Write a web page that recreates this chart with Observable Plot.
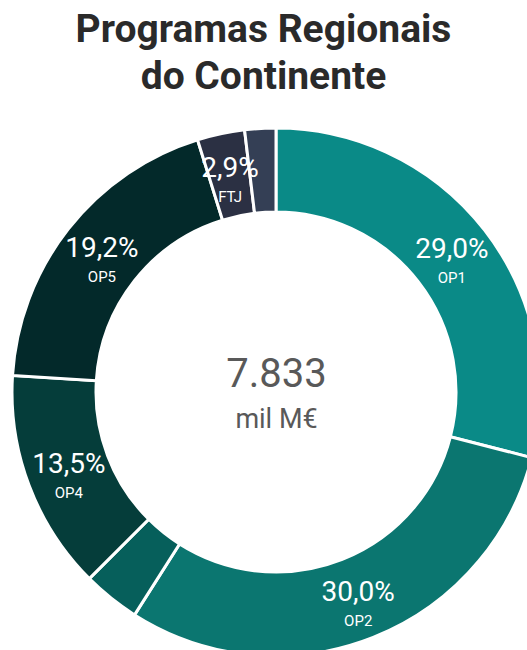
<!DOCTYPE html>
<html>
<head>
<meta charset="utf-8">
<script src="https://cdn.jsdelivr.net/npm/d3@7"></script>
<script src="https://cdn.jsdelivr.net/npm/@observablehq/plot@0.6"></script>
<style>
  html, body { margin: 0; padding: 0; background: #fff; overflow: hidden; width: 527px; height: 650px; }
  #title { font-family: Roboto, "Noto Sans", sans-serif; font-weight: 700; color: #2a2a2a;
           font-size: 39px; line-height: 47px; text-align: center; height: 110px; padding-top: 6px; box-sizing: border-box; }
  #chart svg { overflow: hidden; display: block; }
</style>
</head>
<body>
<div id="title">Programas Regionais<br>do Continente</div>
<div id="chart"></div>
<script>
const categories = ["OP1", "OP2", "OP3", "OP4", "OP5", "FTJ", "AT"];
const shares = [29.0, 30.0, 3.5, 13.5, 19.2, 2.9, 1.9];
const pctLabels = ["29,0%", "30,0%", "", "13,5%", "19,2%", "2,9%", ""];
const nameLabels = ["OP1", "OP2", "", "OP4", "OP5", "FTJ", ""];
const colors = ["#0a8a87", "#0b7670", "#065f5b", "#053d3a", "#03292a", "#2b3043", "#343f55"];
const totalValue = "7.833";
const totalUnit = "mil M€";

const data = categories.map((c, i) => ({name: c, share: shares[i], pct: pctLabels[i], label: nameLabels[i]}));

const innerRatio = 180 / 264;
const pie = d3.pie().sort(null).value(d => d.share);
const arcsData = pie(data);
const unitArc = d3.arc().innerRadius(innerRatio).outerRadius(1);
const labelData = arcsData.map(a => {
  const [cx, cy] = unitArc.centroid(a);
  return {...a.data, x: cx, y: -cy};
}).filter(d => d.pct);

const colorScale = Plot.scale({color: {type: "ordinal", domain: categories, range: colors}});

function donutMark(index, scales, values, dimensions) {
  const {width, height, marginLeft, marginRight, marginTop, marginBottom} = dimensions;
  const cx = scales && scales.x ? scales.x(0) : marginLeft + (width - marginLeft - marginRight) / 2;
  const cy = scales && scales.y ? scales.y(0) : marginTop + (height - marginTop - marginBottom) / 2;
  const R = scales && scales.x ? scales.x(1) - scales.x(0) : (width - marginLeft - marginRight) / 2;
  const arc = d3.arc().innerRadius(R * innerRatio).outerRadius(R);
  const g = d3.create("svg:g").attr("transform", `translate(${cx},${cy})`);
  g.selectAll("path").data(arcsData).join("path")
    .attr("d", arc)
    .attr("fill", d => colorScale.apply(d.data.name))
    .attr("stroke", "#fff")
    .attr("stroke-width", 3)
    .attr("stroke-linejoin", "miter");
  return g.node();
}

const chart = Plot.plot({
  width: 527,
  height: 540,
  marginTop: 18,
  marginBottom: -6,
  marginLeft: 12,
  marginRight: -13,
  x: {domain: [-1, 1], axis: null},
  y: {domain: [-1, 1], axis: null},
  style: {fontFamily: "Roboto, 'Noto Sans', sans-serif", background: "#fff"},
  marks: [
    donutMark,
    Plot.text(labelData, {x: "x", y: "y", text: "pct", fill: "#fff", fontSize: 28, dy: -7, lineAnchor: "middle"}),
    Plot.text(labelData, {x: "x", y: "y", text: "label", fill: "#fff", fontSize: 15, dy: 22, lineAnchor: "middle"}),
    Plot.text([totalValue], {x: 0, y: 0, text: d => d, fill: "#595959", fontSize: 40, dy: -18, lineAnchor: "middle"}),
    Plot.text([totalUnit], {x: 0, y: 0, text: d => d, fill: "#595959", fontSize: 27, dy: 27, lineAnchor: "middle"})
  ]
});
document.getElementById("chart").appendChild(chart);
</script>
</body>
</html>
